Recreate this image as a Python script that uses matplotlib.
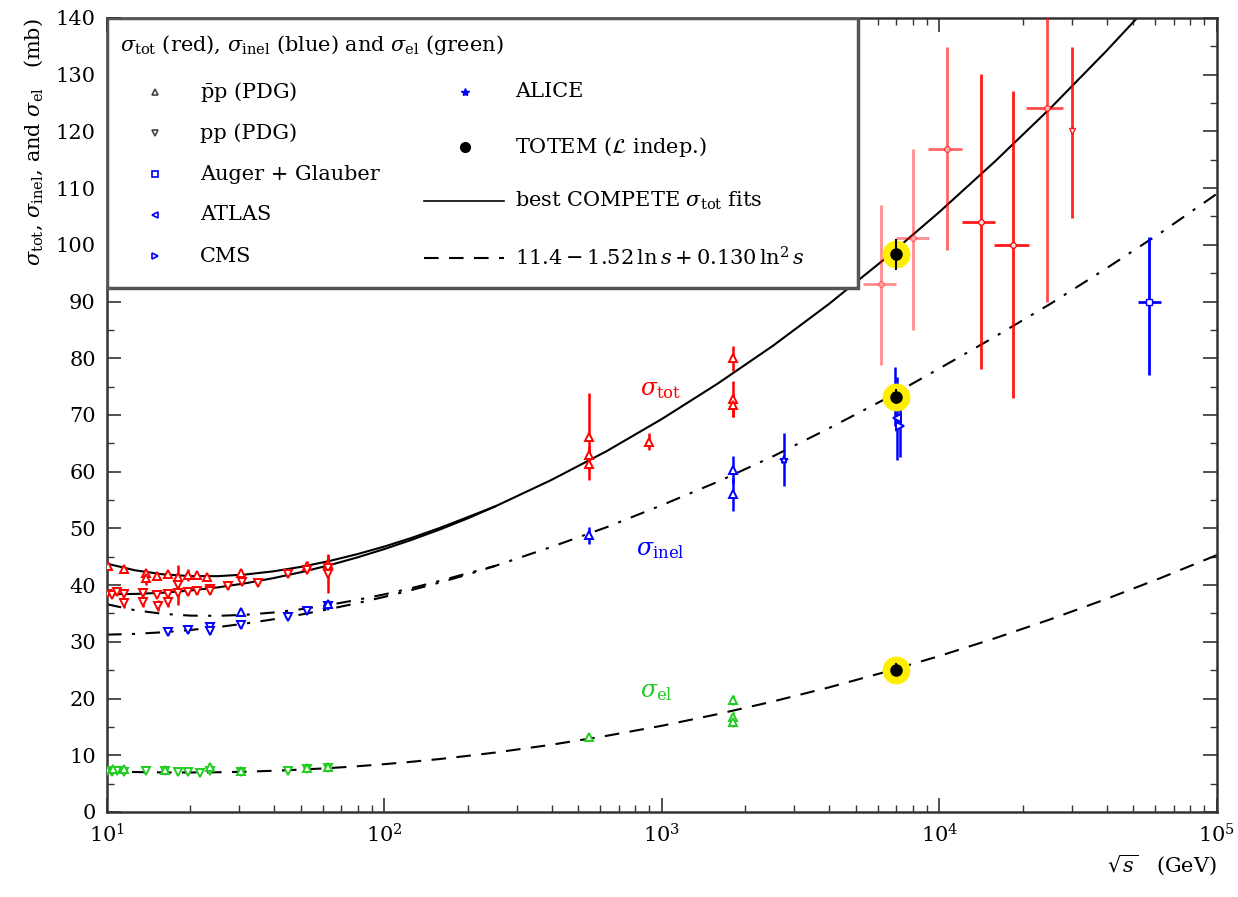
import numpy as np
import matplotlib
matplotlib.use('Agg')
import matplotlib.pyplot as plt
from matplotlib.patches import Rectangle

plt.rcParams['font.family'] = 'DejaVu Serif'
plt.rcParams['mathtext.fontset'] = 'dejavuserif'

RED = '#ff0000'
BLUE = '#0000ff'
GREEN = '#22cc22'

# fit curves (sqrt(s) in GeV, sigma in mb)
fit_rs = [10, 12.59, 15.85, 19.95, 25.12, 31.62, 39.81, 50.12, 63.1, 79.43, 100,
          125.9, 158.5, 199.5, 251.2, 398.1, 631, 1000, 1585, 2512, 3981, 6310,
          10000, 15850, 25120, 39810, 63100, 100000]
tot_fit_pp = [38.42, 38.44, 38.65, 39.04, 39.60, 40.33, 41.23, 42.28, 43.49, 44.85, 46.36,
              48.02, 49.81, 51.76, 53.9, 58.5, 63.6, 69.3, 75.5, 82.2, 89.5, 97.4,
              105.8, 114.7, 124.1, 134.1, 144.6, 155.7]
tot_fit_ppbar = [43.78, 42.62, 41.91, 41.58, 41.58, 41.87, 42.43, 43.22, 44.23, 45.43,
                 46.80, 48.36, 50.09, 51.98, 53.9]
inel_fit_pp = [31.26, 31.40, 31.68, 32.08, 32.60, 33.23, 33.97, 34.81, 35.76, 36.80, 37.93,
               39.16, 40.47, 41.87, 43.4, 46.7, 50.2, 54.1, 58.2, 62.7, 67.6, 72.7,
               78.2, 83.8, 89.6, 95.8, 102.2, 109.0]
inel_fit_ppbar = [36.62, 35.58, 34.94, 34.62, 34.58, 34.77, 35.17, 35.75, 36.50, 37.38,
                  38.37, 39.50, 40.75, 42.09, 43.4]
el_fit = [7.16, 7.04, 6.97, 6.96, 7.00, 7.10, 7.26, 7.47, 7.73, 8.05, 8.43,
          8.86, 9.34, 9.89, 10.48, 11.84, 13.42, 15.2, 17.24, 19.48, 21.94, 24.62,
          27.5, 30.63, 33.97, 37.53, 41.31, 45.3]

# sigma_tot data
tot_ppbar_rs = [10.1, 11.5, 13.8, 13.8, 15.1, 16.6, 18.1, 19.6, 21.1, 22.9, 30.4,
                52.6, 62.7, 546, 546, 546, 900, 1800, 1800, 1800]
tot_ppbar = [43.3, 42.9, 42.2, 41.3, 41.6, 41.9, 41.5, 41.8, 41.7, 41.5, 42.1,
             43.4, 43.8, 66.2, 63.0, 61.3, 65.3, 80.0, 72.8, 71.7]
tot_ppbar_err = [0.6, 0.5, 0.5, 1.2, 0.5, 0.4, 0.5, 1.0, 0.4, 0.5, 0.7,
                 0.9, 1.5, 7.6, 1.5, 1.0, 1.5, 2.2, 3.1, 2.0]
tot_pp_rs = [10.0, 10.4, 10.9, 11.5, 11.5, 13.5, 13.5, 15.1, 15.3, 16.6, 16.6, 18.1,
             18.1, 19.6, 21.1, 23.5, 23.5, 27.4, 30.7, 35.0, 44.9, 52.8, 62.5, 62.5]
tot_pp = [38.5, 38.3, 38.7, 38.4, 36.8, 38.6, 37.1, 38.3, 36.4, 38.4, 37.0, 38.6,
          40.0, 38.8, 38.9, 39.3, 38.9, 39.8, 40.5, 40.4, 41.9, 42.6, 43.1, 42.0]
tot_pp_err = [0.4, 0.4, 0.4, 0.4, 0.8, 0.4, 0.9, 0.4, 0.9, 0.4, 0.9, 0.4,
              3.5, 0.5, 0.4, 0.5, 0.5, 0.5, 0.5, 0.4, 0.4, 0.5, 0.5, 3.4]

# cosmic ray sigma_tot points
cr_rs = [6150, 8040, 10640, 14100, 18400, 24400, 30000]
cr_tot = [93.1, 101.2, 116.9, 104.1, 100.0, 124.2, 120.0]
cr_err_lo = [14.3, 16.2, 17.8, 26.0, 27.0, 34.2, 15.2]
cr_err_hi = [14.0, 15.7, 18.0, 26.1, 27.2, 16.0, 14.9]
cr_rs_lo = [5300, 7000, 9100, 12100, 15700, 20500, 30000]
cr_rs_hi = [7000, 9150, 12100, 15800, 21000, 27900, 30000]
cr_alpha = [0.45, 0.45, 0.6, 0.9, 0.9, 0.7, 0.85]

# sigma_inel data
inel_pp_rs = [16.6, 19.6, 23.5, 23.5, 30.4, 44.9, 52.6, 62.5]
inel_pp = [31.7, 32.1, 32.6, 31.9, 33.0, 34.4, 35.5, 36.4]
inel_pp_err = [0.5, 0.5, 0.5, 0.6, 0.5, 0.4, 0.5, 0.5]
inel_ppbar_rs = [30.4, 62.5, 546, 1800, 1800]
inel_ppbar = [35.2, 36.7, 48.8, 60.3, 56.0]
inel_ppbar_err = [0.6, 0.6, 1.5, 2.4, 2.9]
alice_rs = [2760, 6900]
alice_inel = [62.1, 73.2]
alice_err = [4.7, 5.2]
atlas_rs = [7050]
atlas_inel = [69.4]
atlas_err = [7.3]
cms_rs = [7200]
cms_inel = [68.0]
cms_err = [5.5]
auger_rs = [57000]
auger_inel = [90.0]
auger_rs_lo = [51800]
auger_rs_hi = [63000]
auger_err_lo = [13.0]
auger_err_hi = [11.4]

# sigma_el data
el_pp_rs = [10.0, 10.4, 10.9, 11.5, 13.8, 16.2, 18.1, 19.6, 21.7, 23.5, 30.4, 44.9, 52.6, 62.5]
el_pp = [7.2, 7.0, 7.3, 7.1, 7.3, 7.2, 7.1, 7.0, 6.8, 7.3, 7.1, 7.3, 7.5, 7.7]
el_ppbar_rs = [10.5, 11.5, 16.2, 23.5, 30.4, 52.6, 62.5, 546, 1800, 1800, 1800]
el_ppbar = [7.6, 7.5, 7.4, 7.9, 7.3, 7.8, 7.9, 13.3, 19.7, 16.8, 15.8]
el_ppbar_err = [0.3, 0.3, 0.3, 0.4, 0.3, 0.3, 0.3, 0.5, 0.9, 0.8, 0.8]

# TOTEM 7 TeV
totem_rs = 7000
totem_vals = [98.3, 73.2, 25.1]
totem_err = [2.8, 1.3, 1.1]


def pts(x, y, yerr, color, marker, ms=6):
    ax.errorbar(x, y, yerr=yerr, fmt=marker, color=color, ms=ms, mfc='white',
                mec=color, mew=1.4, elinewidth=1.8, capsize=0, zorder=3)


fig = plt.figure(figsize=(12.38, 8.97), dpi=100)
ax = fig.add_axes([0.0864, 0.0948, 0.8966, 0.8852])
ax.set_xscale('log')
ax.set_xlim(10, 1e5)
ax.set_ylim(0, 140)

# fit curves
ax.plot(fit_rs, tot_fit_pp, '-', color='black', lw=1.5, zorder=2)
ax.plot(fit_rs[:len(tot_fit_ppbar)], tot_fit_ppbar, '-', color='black', lw=1.5, zorder=2)
ax.plot(fit_rs, inel_fit_pp, '-.', color='black', lw=1.5, zorder=2, dashes=(7, 5, 1.5, 5))
ax.plot(fit_rs[:len(inel_fit_ppbar)], inel_fit_ppbar, '-.', color='black', lw=1.5,
        zorder=2, dashes=(7, 5, 1.5, 5))
ax.plot(fit_rs, el_fit, '--', color='black', lw=1.5, zorder=2, dashes=(7, 5))

# data
pts(tot_ppbar_rs, tot_ppbar, tot_ppbar_err, RED, '^')
pts(tot_pp_rs, tot_pp, tot_pp_err, RED, 'v')
for i in range(len(cr_rs)):
    xe = [[cr_rs[i] - cr_rs_lo[i]], [cr_rs_hi[i] - cr_rs[i]]]
    ye = [[cr_err_lo[i]], [cr_err_hi[i]]]
    mk = 'v' if i == len(cr_rs) - 1 else 'o'
    ax.errorbar([cr_rs[i]], [cr_tot[i]], xerr=xe, yerr=ye, fmt=mk, color=RED, ms=4,
                mfc='white', mec=RED, mew=1.0, elinewidth=2.0, capsize=0,
                alpha=cr_alpha[i], zorder=3)

pts(inel_pp_rs, inel_pp, inel_pp_err, BLUE, 'v')
pts(inel_ppbar_rs, inel_ppbar, inel_ppbar_err, BLUE, '^')
pts(alice_rs, alice_inel, alice_err, BLUE, '*')
pts(atlas_rs, atlas_inel, atlas_err, BLUE, '<')
pts(cms_rs, cms_inel, cms_err, BLUE, '>')
ax.errorbar(auger_rs, auger_inel,
            xerr=[np.subtract(auger_rs, auger_rs_lo), np.subtract(auger_rs_hi, auger_rs)],
            yerr=[auger_err_lo, auger_err_hi], fmt='s', color=BLUE, ms=4, mfc='white',
            mec=BLUE, mew=1.0, elinewidth=2.0, capsize=0, zorder=3)

pts(el_pp_rs, el_pp, [0.3] * len(el_pp), GREEN, 'v')
pts(el_ppbar_rs, el_ppbar, el_ppbar_err, GREEN, '^')

# TOTEM with yellow halo
ax.plot([totem_rs] * 3, totem_vals, 'o', color='#ffee00', ms=19, zorder=4)
ax.errorbar([totem_rs] * 3, totem_vals, yerr=totem_err, fmt='o', color='black', ms=8,
            elinewidth=1.5, capsize=0, zorder=5)

# curve labels
ax.text(830, 74.4, r'$\sigma_{\rm tot}$', color=RED, fontsize=17, va='center')
ax.text(805, 46.2, r'$\sigma_{\rm inel}$', color=BLUE, fontsize=17, va='center')
ax.text(830, 21.2, r'$\sigma_{\rm el}$', color=GREEN, fontsize=17, va='center')

# legend box
ax.add_patch(Rectangle((0, 0.66), 0.677, 0.34, transform=ax.transAxes, facecolor='white',
                       edgecolor='#555555', lw=2.5, zorder=6))
tr = ax.transAxes
fs = 15
ax.text(0.012, 0.966, r'$\sigma_{\rm tot}$ (red), $\sigma_{\rm inel}$ (blue) and $\sigma_{\rm el}$ (green)',
        transform=tr, fontsize=fs, va='center', zorder=7)
col1 = [(r'$\bar{\rm p}$p (PDG)', '^', '#444444', 0.907),
        ('pp (PDG)', 'v', '#444444', 0.855),
        ('Auger + Glauber', 's', BLUE, 0.803),
        ('ATLAS', '<', BLUE, 0.752),
        ('CMS', '>', BLUE, 0.700)]
for label, mk, c, yy in col1:
    ax.plot([0.043], [yy], mk, color=c, ms=5, mfc='white', mew=1.2, transform=tr, zorder=7)
    ax.text(0.084, yy, label, transform=tr, fontsize=fs, va='center', zorder=7)
ax.plot([0.3225], [0.907], '*', color=BLUE, ms=6, transform=tr, zorder=7)
ax.text(0.3676, 0.907, 'ALICE', transform=tr, fontsize=fs, va='center', zorder=7)
ax.plot([0.3225], [0.838], 'o', color='black', ms=7, transform=tr, zorder=7)
ax.text(0.3676, 0.838, r'TOTEM ($\mathcal{L}$ indep.)', transform=tr, fontsize=fs,
        va='center', zorder=7)
ax.plot([0.286, 0.358], [0.770, 0.770], '-', color='black', lw=1.2, transform=tr, zorder=7)
ax.text(0.3676, 0.770, r'best COMPETE $\sigma_{\rm tot}$ fits', transform=tr, fontsize=fs,
        va='center', zorder=7)
ax.plot([0.286, 0.358], [0.698, 0.698], '--', color='black', lw=1.5, dashes=(7, 5),
        transform=tr, zorder=7)
ax.text(0.3676, 0.698, r'$11.4 - 1.52\,\ln s + 0.130\,\ln^2 s$', transform=tr,
        fontsize=fs, va='center', zorder=7)

# axes styling
ax.set_yticks(np.arange(0, 141, 10))
ax.set_yticks(np.arange(0, 141, 5), minor=True)
ax.tick_params(which='both', direction='in', top=True, right=True, labelsize=15,
               color='#333333')
ax.tick_params(which='major', length=10, width=1.2, pad=8)
ax.tick_params(which='minor', length=5, width=1.0)
for s in ax.spines.values():
    s.set_linewidth(1.8)
    s.set_color('#333333')

ax.set_ylabel(r'$\sigma_{\rm tot}$, $\sigma_{\rm inel}$, and $\sigma_{\rm el}$   (mb)',
              fontsize=15, loc='top', labelpad=8)
ax.set_xlabel(r'$\sqrt{s}$   (GeV)', fontsize=15, loc='right', labelpad=4)

fig.savefig('out.png', dpi=100)
